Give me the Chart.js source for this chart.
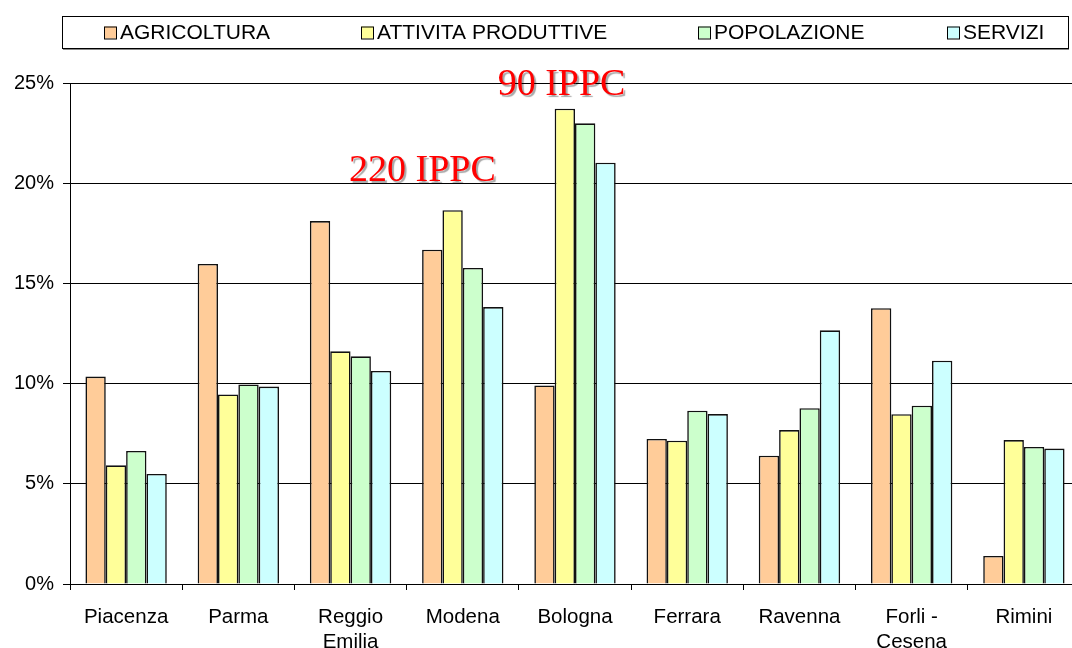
<!DOCTYPE html>
<html>
<head>
<meta charset="utf-8">
<script src="https://cdn.jsdelivr.net/npm/chart.js@4/dist/chart.umd.min.js"></script>
<style>
  html, body { margin: 0; padding: 0; overflow: hidden; background: #fff; }
  canvas { display: block; }
</style>
</head>
<body>
<canvas id="chart" width="1100" height="680"></canvas>
<script>
// Quota provinciale (%) per settore
const provinces = ['Piacenza', 'Parma', ['Reggio', 'Emilia'], 'Modena', 'Bologna', 'Ferrara', 'Ravenna', ['Forli -', 'Cesena'], 'Rimini'];
const seriesNames = ['AGRICOLTURA', 'ATTIVITA PRODUTTIVE', 'POPOLAZIONE', 'SERVIZI'];
const agricoltura        = [10.35, 15.97, 18.11, 16.68,  9.91, 7.24,  6.40, 13.76, 1.40];
const attivitaProduttive = [ 5.92,  9.46, 11.61, 18.65, 23.72, 7.15,  7.68,  8.47, 7.18];
const popolazione        = [ 6.64,  9.96, 11.36, 15.77, 22.99, 8.65,  8.77,  8.90, 6.84];
const servizi            = [ 5.49,  9.85, 10.63, 13.82, 21.02, 8.48, 12.66, 11.14, 6.76];
const yTickValues = [0, 5, 10, 15, 20, 25];
const noteTexts = ['90 IPPC', '220 IPPC'];

const seriesColors = ['#FFCC99', '#FFFF99', '#CCFFCC', '#CCFFFF'];
const sansFont = 'Arial, "Liberation Sans", sans-serif';

// Red callouts: anchored to a (fractional) category index and a value on the y axis
const notePlacement = [
  { text: noteTexts[0], at: 3.88, value: 24.4 },
  { text: noteTexts[1], at: 2.64, value: 20.1 }
];

const noteLabels = {
  id: 'noteLabels',
  afterDatasetsDraw(chart) {
    const { ctx, scales: { x, y } } = chart;
    ctx.save();
    ctx.font = '38px "Liberation Serif", "Times New Roman", serif';
    ctx.textAlign = 'center';
    ctx.textBaseline = 'alphabetic';
    ctx.fillStyle = '#FF0000';
    ctx.shadowColor = 'rgba(0,0,0,0.35)';
    ctx.shadowOffsetX = 2;
    ctx.shadowOffsetY = 2;
    ctx.shadowBlur = 1;
    notePlacement.forEach(n => {
      ctx.fillText(n.text, x.getPixelForValue(n.at), y.getPixelForValue(n.value));
    });
    ctx.restore();
  }
};

// Framed single-row legend above the plot
const legendFrame = { left: 62, top: 16, right: 1068, bottom: 48 };
const legendItemStarts = [104, 361, 698, 947];

const framedLegend = {
  id: 'framedLegend',
  afterDraw(chart) {
    const ctx = chart.ctx;
    const f = legendFrame;
    ctx.save();
    ctx.strokeStyle = '#000';
    ctx.lineWidth = 1;
    ctx.strokeRect(f.left + 0.5, f.top + 0.5, f.right - f.left, f.bottom - f.top);
    ctx.strokeStyle = '#888';
    ctx.beginPath();
    ctx.moveTo(f.left + 1, f.bottom + 1.5);
    ctx.lineTo(f.right + 1, f.bottom + 1.5);
    ctx.stroke();
    const midY = (f.top + f.bottom) / 2 + 1;
    ctx.font = '21px ' + sansFont;
    ctx.textBaseline = 'middle';
    ctx.textAlign = 'left';
    chart.data.datasets.forEach((ds, i) => {
      const x0 = legendItemStarts[i];
      ctx.fillStyle = ds.backgroundColor;
      ctx.fillRect(x0, midY - 6.5, 12, 12);
      ctx.strokeStyle = '#000';
      ctx.strokeRect(x0 + 0.5, midY - 6.5 + 0.5, 12, 12);
      ctx.fillStyle = '#000';
      ctx.fillText(ds.label, x0 + 16, midY);
    });
    ctx.restore();
  }
};

const seriesValues = [agricoltura, attivitaProduttive, popolazione, servizi];

new Chart(document.getElementById('chart'), {
  type: 'bar',
  data: {
    labels: provinces,
    datasets: seriesNames.map((name, i) => ({
      label: name,
      data: seriesValues[i],
      backgroundColor: seriesColors[i],
      borderColor: '#111',
      borderWidth: 1.6,
      borderSkipped: 'start',
      categoryPercentage: 0.725,
      barPercentage: 1.0
    }))
  },
  options: {
    responsive: false,
    animation: false,
    devicePixelRatio: 1,
    layout: { padding: { top: 83, right: 20, left: 0, bottom: 0 } },
    plugins: {
      legend: { display: false },
      tooltip: { enabled: false }
    },
    scales: {
      x: {
        offset: true,
        grid: {
          offset: true,
          drawOnChartArea: false,
          drawTicks: true,
          tickLength: 6,
          color: '#000',
          lineWidth: 1
        },
        border: { display: true, color: '#000', width: 1 },
        ticks: {
          color: '#000',
          padding: 15,
          maxRotation: 0,
          autoSkip: false,
          font: { family: sansFont, size: 20.5, lineHeight: 1.2 }
        },
        afterFit(scale) { scale.height = 96; }
      },
      y: {
        min: 0,
        max: 25,
        afterBuildTicks(scale) { scale.ticks = yTickValues.map(v => ({ value: v })); },
        grid: {
          color: '#000',
          lineWidth: 1,
          drawTicks: true,
          tickLength: 7
        },
        border: { display: true, color: '#000', width: 1 },
        ticks: {
          color: '#000',
          padding: 9,
          callback: v => v + '%',
          font: { family: sansFont, size: 20 }
        },
        afterFit(scale) { scale.width = 70; }
      }
    }
  },
  plugins: [noteLabels, framedLegend]
});
</script>
</body>
</html>
